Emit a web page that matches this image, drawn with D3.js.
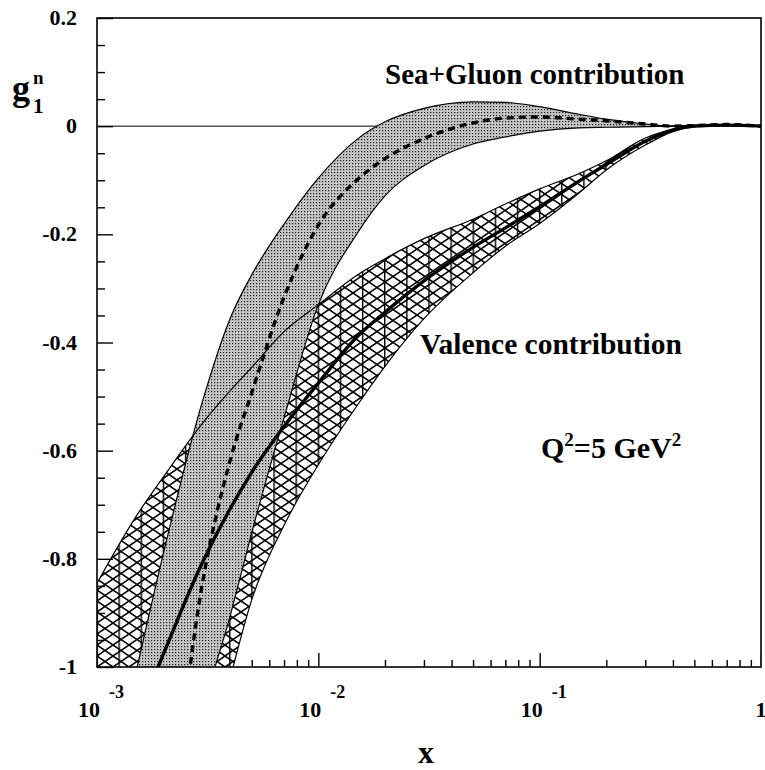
<!DOCTYPE html>
<html>
<head>
<meta charset="utf-8">
<script src="https://cdn.jsdelivr.net/npm/d3@7"></script>
<style>
  body { margin: 0; background: #fff; }
  text { font-family: "Liberation Serif", "Times New Roman", serif; font-weight: bold; fill: #000; }
</style>
</head>
<body>
<svg id="chart" width="765" height="770"></svg>
<script>
// x grid (log scale) and the curves
const xs = [0.001, 0.0015, 0.002, 0.003, 0.004, 0.005, 0.007, 0.01, 0.015, 0.02, 0.03, 0.05, 0.07, 0.1, 0.15, 0.2, 0.3, 0.4, 0.5, 0.7, 1.0];

// Sea+Gluon band (stippled) and its central (dashed) curve
const seaUpper   = [-1.34, -1.01, -0.788, -0.508, -0.355, -0.275, -0.181, -0.096, -0.024, 0.008, 0.033, 0.045, 0.044, 0.036, 0.022, 0.013, 0.004, 0.0, 0.002, 0.003, 0.0];
const seaCentral = [-2.0, -1.65, -1.37, -0.843, -0.617, -0.493, -0.316, -0.183, -0.099, -0.060, -0.023, 0.006, 0.015, 0.017, 0.013, 0.010, 0.004, 0.0, 0.001, 0.003, 0.0];
const seaLower   = [-2.3, -1.9, -1.55, -1.09, -0.905, -0.752, -0.539, -0.33, -0.198, -0.129, -0.073, -0.033, -0.020, -0.009, -0.003, -0.002, -0.001, 0.0, 0.001, 0.002, 0.0];

// Valence band (hatched) and its central (solid) curve
const valUpper   = [-0.845, -0.722, -0.648, -0.549, -0.489, -0.446, -0.380, -0.330, -0.275, -0.245, -0.208, -0.172, -0.144, -0.116, -0.088, -0.064, -0.022, -0.006, 0.001, 0.003, 0.0];
const valCentral = [-1.28, -1.10, -0.975, -0.806, -0.707, -0.640, -0.555, -0.475, -0.389, -0.344, -0.286, -0.224, -0.188, -0.149, -0.102, -0.071, -0.028, -0.007, 0.0, 0.002, 0.0];
const valLower   = [-2.0, -1.7, -1.5, -1.22, -1.02, -0.876, -0.738, -0.626, -0.516, -0.444, -0.356, -0.271, -0.222, -0.180, -0.124, -0.081, -0.035, -0.010, -0.001, 0.002, 0.0];

// ticks
const yMajor = [0.2, 0, -0.2, -0.4, -0.6, -0.8, -1];
const yLabels = ["0.2", "0", "-0.2", "-0.4", "-0.6", "-0.8", "-1"];
const xDecades = [1e-3, 1e-2, 1e-1, 1];
const xExps = ["-3", "-2", "-1", null];

const svg = d3.select("#chart");
const pl = 97, pr = 761, pt = 18, pb = 667;

const x = d3.scaleLog().domain([1e-3, 1]).range([pl, pr]);
const y = d3.scaleLinear().domain([-1, 0.2]).range([pb, pt]);

const defs = svg.append("defs");
defs.append("clipPath").attr("id", "plot")
  .append("rect").attr("x", pl).attr("y", pt)
  .attr("width", pr - pl).attr("height", pb - pt);

// stipple for the sea+gluon band
const dots = defs.append("pattern").attr("id", "dots")
  .attr("patternUnits", "userSpaceOnUse").attr("width", 3).attr("height", 3);
dots.append("rect").attr("width", 3).attr("height", 3).attr("fill", "#c4c4c4");
dots.append("rect").attr("x", 1).attr("y", 1).attr("width", 1.2).attr("height", 1.2).attr("fill", "#222");

// diamond hatch for the valence band
const hatch = defs.append("pattern").attr("id", "hatch")
  .attr("patternUnits", "userSpaceOnUse").attr("width", 16).attr("height", 11)
  .attr("x", pl).attr("y", pt);
hatch.append("rect").attr("width", 16).attr("height", 11).attr("fill", "#fff");
hatch.append("path").attr("d", "M0,0L16,11M0,11L16,0M-1,10L1,12M15,-1L17,1")
  .attr("stroke", "#000").attr("stroke-width", 1.5).attr("fill", "none");

// vertical lines at every 0.1 in log10(x)
const step = x(Math.pow(10, -2.9)) - x(1e-3);
const vert = defs.append("pattern").attr("id", "vert")
  .attr("patternUnits", "userSpaceOnUse").attr("width", step).attr("height", 20)
  .attr("x", x(1e-3) - 0.7).attr("y", 0);
vert.append("line").attr("x1", 0.7).attr("x2", 0.7).attr("y1", 0).attr("y2", 20)
  .attr("stroke", "#000").attr("stroke-width", 1.4);

const g = svg.append("g").attr("clip-path", "url(#plot)");

// zero line
g.append("line")
  .attr("x1", pl).attr("x2", pr)
  .attr("y1", y(0)).attr("y2", y(0))
  .attr("stroke", "#000").attr("stroke-width", 1);

// bottom ticks (hidden under the bands where they overlap)
const xMinor = [];
[1e-3, 1e-2, 1e-1].forEach(d => { for (let k = 2; k <= 9; k++) xMinor.push(d * k); });
g.append("g").attr("transform", `translate(0,${pb})`)
  .call(d3.axisBottom(x).tickValues(xMinor).tickSize(-7).tickFormat(""))
  .call(a => a.select(".domain").remove())
  .call(a => a.selectAll("line").attr("stroke-width", 1.4));
g.append("g").attr("transform", `translate(0,${pb})`)
  .call(d3.axisBottom(x).tickValues(xDecades).tickSize(-14).tickFormat(""))
  .call(a => a.select(".domain").remove())
  .call(a => a.selectAll("line").attr("stroke-width", 1.4));

const band = (lo, hi) => d3.area()
  .x((d, i) => x(xs[i]))
  .y0((d, i) => y(lo[i]))
  .y1((d, i) => y(hi[i]))
  .curve(d3.curveMonotoneX)(xs);

const line = arr => d3.line()
  .x((d, i) => x(xs[i]))
  .y((d, i) => y(arr[i]))
  .curve(d3.curveMonotoneX)(xs);

// valence band
g.append("path").attr("d", band(valLower, valUpper)).attr("fill", "url(#hatch)");
g.append("path").attr("d", band(valLower, valUpper)).attr("fill", "url(#vert)");

// sea+gluon band on top
g.append("path").attr("d", band(seaLower, seaUpper)).attr("fill", "url(#dots)");

// edges
[seaUpper, seaLower, valUpper, valLower].forEach(arr => {
  g.append("path").attr("d", line(arr))
    .attr("fill", "none").attr("stroke", "#000").attr("stroke-width", 1.2);
});

g.append("path").attr("d", line(valCentral))
  .attr("fill", "none").attr("stroke", "#000").attr("stroke-width", 3.4);

g.append("path").attr("d", line(seaCentral))
  .attr("fill", "none").attr("stroke", "#000").attr("stroke-width", 3.4)
  .attr("stroke-dasharray", "7,5");

// left ticks (pointing inward)
const yMinor = d3.range(0.2, -1.0001, -0.05).map(v => +v.toFixed(2)).filter(v => !yMajor.includes(v));
svg.append("g").attr("transform", `translate(${pl},0)`)
  .call(d3.axisLeft(y).tickValues(yMinor).tickSize(-8).tickFormat(""))
  .call(a => a.select(".domain").remove())
  .call(a => a.selectAll("line").attr("stroke-width", 1.4));
svg.append("g").attr("transform", `translate(${pl},0)`)
  .call(d3.axisLeft(y).tickValues(yMajor).tickSize(-16).tickFormat(""))
  .call(a => a.select(".domain").remove())
  .call(a => a.selectAll("line").attr("stroke-width", 1.4));

// frame
svg.append("rect")
  .attr("x", pl).attr("y", pt)
  .attr("width", pr - pl).attr("height", pb - pt)
  .attr("fill", "none").attr("stroke", "#000").attr("stroke-width", 1.6);

// y tick labels
svg.selectAll(".ylab").data(yMajor).enter().append("text")
  .attr("x", 77).attr("y", d => y(d) + 7)
  .attr("text-anchor", "end")
  .style("font-size", "22px")
  .text((d, i) => yLabels[i]);

// x tick labels
xDecades.forEach((d, i) => {
  if (xExps[i] === null) {
    svg.append("text").attr("x", x(d)).attr("y", 717)
      .attr("text-anchor", "middle").style("font-size", "22px").text("1");
  } else {
    svg.append("text").attr("x", x(d) + 3).attr("y", 717)
      .attr("text-anchor", "end").style("font-size", "22px").text("10");
    svg.append("text").attr("x", x(d) + 12).attr("y", 698)
      .style("font-size", "18px").text(xExps[i]);
  }
});

// axis titles
svg.append("text").attr("x", 426).attr("y", 763)
  .attr("text-anchor", "middle").style("font-size", "32px").text("x");

svg.append("text").attr("x", 12).attr("y", 100).style("font-size", "36px").text("g");
svg.append("text").attr("x", 33).attr("y", 84).style("font-size", "19px").text("n");
svg.append("text").attr("x", 33).attr("y", 113).style("font-size", "21px").text("1");

// annotations
svg.append("text").attr("x", 385).attr("y", 84).style("font-size", "29px").text("Sea+Gluon contribution");
svg.append("text").attr("x", 420).attr("y", 354).style("font-size", "29.5px").text("Valence contribution");

const q = svg.append("text").attr("x", 541).attr("y", 458).style("font-size", "30px");
q.append("tspan").text("Q");
q.append("tspan").attr("dy", -12).style("font-size", "19px").text("2");
q.append("tspan").attr("dy", 12).text("=5 GeV");
q.append("tspan").attr("dy", -12).style("font-size", "19px").text("2");
</script>
</body>
</html>
